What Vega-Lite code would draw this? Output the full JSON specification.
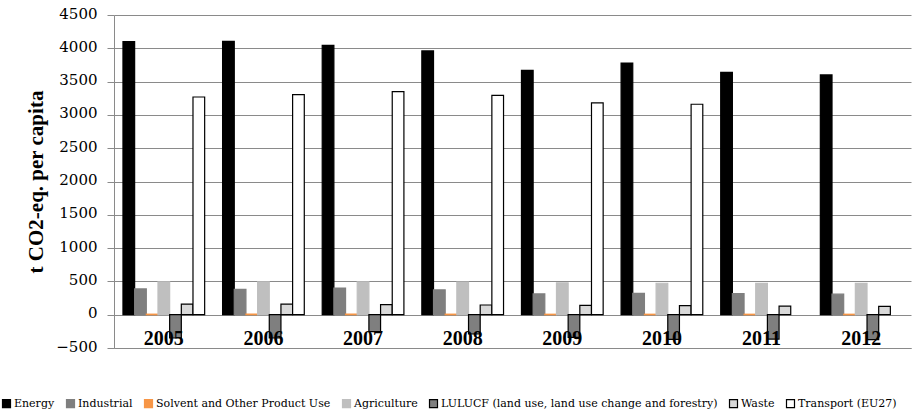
{
  "$schema": "https://vega.github.io/schema/vega-lite/v6.json",
  "width": 797,
  "height": 333,
  "autosize": "none",
  "padding": {"left": 114, "top": 15, "right": 2, "bottom": 63},
  "config": {"view": {"stroke": null}, "font": "DejaVu Serif"},
  "data": {
    "values": [
      {"year": "2005", "category": "Energy", "value": 4100},
      {"year": "2005", "category": "Industrial", "value": 387},
      {"year": "2005", "category": "Solvent and Other Product Use", "value": 8},
      {"year": "2005", "category": "Agriculture", "value": 492},
      {"year": "2005", "category": "LULUCF (land use, land use change and forestry)", "value": -350},
      {"year": "2005", "category": "Waste", "value": 160},
      {"year": "2005", "category": "Transport (EU27)", "value": 3269},
      {"year": "2006", "category": "Energy", "value": 4105},
      {"year": "2006", "category": "Industrial", "value": 381},
      {"year": "2006", "category": "Solvent and Other Product Use", "value": 8},
      {"year": "2006", "category": "Agriculture", "value": 492},
      {"year": "2006", "category": "LULUCF (land use, land use change and forestry)", "value": -350},
      {"year": "2006", "category": "Waste", "value": 158},
      {"year": "2006", "category": "Transport (EU27)", "value": 3305},
      {"year": "2007", "category": "Energy", "value": 4045},
      {"year": "2007", "category": "Industrial", "value": 400},
      {"year": "2007", "category": "Solvent and Other Product Use", "value": 8},
      {"year": "2007", "category": "Agriculture", "value": 492},
      {"year": "2007", "category": "LULUCF (land use, land use change and forestry)", "value": -255},
      {"year": "2007", "category": "Waste", "value": 150},
      {"year": "2007", "category": "Transport (EU27)", "value": 3348},
      {"year": "2008", "category": "Energy", "value": 3960},
      {"year": "2008", "category": "Industrial", "value": 372},
      {"year": "2008", "category": "Solvent and Other Product Use", "value": 8},
      {"year": "2008", "category": "Agriculture", "value": 490},
      {"year": "2008", "category": "LULUCF (land use, land use change and forestry)", "value": -290},
      {"year": "2008", "category": "Waste", "value": 146},
      {"year": "2008", "category": "Transport (EU27)", "value": 3292},
      {"year": "2009", "category": "Energy", "value": 3669},
      {"year": "2009", "category": "Industrial", "value": 312},
      {"year": "2009", "category": "Solvent and Other Product Use", "value": 7},
      {"year": "2009", "category": "Agriculture", "value": 478},
      {"year": "2009", "category": "LULUCF (land use, land use change and forestry)", "value": -340},
      {"year": "2009", "category": "Waste", "value": 140},
      {"year": "2009", "category": "Transport (EU27)", "value": 3180},
      {"year": "2010", "category": "Energy", "value": 3779},
      {"year": "2010", "category": "Industrial", "value": 320},
      {"year": "2010", "category": "Solvent and Other Product Use", "value": 7},
      {"year": "2010", "category": "Agriculture", "value": 472},
      {"year": "2010", "category": "LULUCF (land use, land use change and forestry)", "value": -370},
      {"year": "2010", "category": "Waste", "value": 135},
      {"year": "2010", "category": "Transport (EU27)", "value": 3160},
      {"year": "2011", "category": "Energy", "value": 3640},
      {"year": "2011", "category": "Industrial", "value": 316},
      {"year": "2011", "category": "Solvent and Other Product Use", "value": 7},
      {"year": "2011", "category": "Agriculture", "value": 470},
      {"year": "2011", "category": "LULUCF (land use, land use change and forestry)", "value": -366},
      {"year": "2011", "category": "Waste", "value": 128},
      {"year": "2012", "category": "Energy", "value": 3600},
      {"year": "2012", "category": "Industrial", "value": 308},
      {"year": "2012", "category": "Solvent and Other Product Use", "value": 7},
      {"year": "2012", "category": "Agriculture", "value": 470},
      {"year": "2012", "category": "LULUCF (land use, land use change and forestry)", "value": -375},
      {"year": "2012", "category": "Waste", "value": 126}
    ]
  },
  "mark": {"type": "bar", "strokeWidth": 1.2},
  "encoding": {
    "x": {
      "field": "year",
      "type": "nominal",
      "scale": {"paddingInner": 0.18, "paddingOuter": 0.09},
      "axis": {
        "title": null,
        "labelAngle": 0,
        "labelFont": "Liberation Serif",
        "labelFontSize": 20,
        "labelFontWeight": "bold",
        "labelColor": "#000000",
        "ticks": false,
        "tickSize": 0,
        "labelPadding": -4,
        "labelBaseline": "alphabetic",
        "domainColor": "#8a8a8a",
        "domainWidth": 1,
        "zindex": 1
      }
    },
    "xOffset": {
      "field": "category",
      "type": "nominal",
      "scale": {
        "domain": ["Energy", "Industrial", "Solvent and Other Product Use", "Agriculture", "LULUCF (land use, land use change and forestry)", "Waste", "Transport (EU27)"],
        "paddingInner": 0,
        "paddingOuter": 0
      }
    },
    "y": {
      "field": "value",
      "type": "quantitative",
      "scale": {"domain": [-500, 4500], "nice": false, "zero": false},
      "axis": {
        "values": [-500, 0, 500, 1000, 1500, 2000, 2500, 3000, 3500, 4000, 4500],
        "format": "d",
        "title": "t CO2-eq. per capita",
        "titleFont": "Liberation Serif",
        "titleFontSize": 21,
        "titleFontWeight": "bold",
        "titleColor": "#000000",
        "titleX": -68,
        "labelFont": "DejaVu Serif",
        "labelFontSize": 15,
        "labelColor": "#000000",
        "labelPadding": 10,
        "labelOffset": -2,
        "tickSize": 7,
        "tickColor": "#8a8a8a",
        "domainColor": "#8a8a8a",
        "gridColor": "#8a8a8a",
        "gridWidth": 1,
        "grid": true
      }
    },
    "fill": {
      "field": "category",
      "type": "nominal",
      "scale": {
        "domain": ["Energy", "Industrial", "Solvent and Other Product Use", "Agriculture", "LULUCF (land use, land use change and forestry)", "Waste", "Transport (EU27)"],
        "range": ["#000000", "#7f7f7f", "#f79646", "#bfbfbf", "#7f7f7f", "#d9d9d9", "#ffffff"]
      },
      "legend": {
        "title": null,
        "orient": "none",
        "legendX": -113,
        "legendY": 383,
        "direction": "horizontal",
        "columns": 7,
        "columnPadding": 9,
        "labelFont": "DejaVu Serif",
        "labelFontSize": 11,
        "labelColor": "#000000",
        "labelLimit": 400,
        "labelOffset": 2,
        "symbolType": "square",
        "symbolSize": 64,
        "symbolStrokeWidth": 1.2
      }
    },
    "stroke": {
      "field": "category",
      "type": "nominal",
      "scale": {
        "domain": ["Energy", "Industrial", "Solvent and Other Product Use", "Agriculture", "LULUCF (land use, land use change and forestry)", "Waste", "Transport (EU27)"],
        "range": ["#000000", "#7f7f7f", "#f79646", "#bfbfbf", "#000000", "#000000", "#000000"]
      },
      "legend": {
        "title": null,
        "orient": "none",
        "legendX": -113,
        "legendY": 383,
        "direction": "horizontal",
        "columns": 7,
        "columnPadding": 9,
        "labelFont": "DejaVu Serif",
        "labelFontSize": 11,
        "labelColor": "#000000",
        "labelLimit": 400,
        "labelOffset": 2,
        "symbolType": "square",
        "symbolSize": 64,
        "symbolStrokeWidth": 1.2
      }
    }
  }
}
